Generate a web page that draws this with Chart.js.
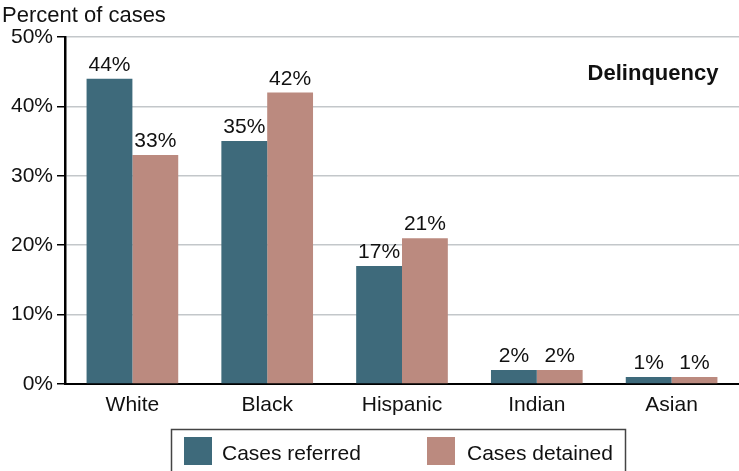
<!DOCTYPE html>
<html>
<head>
<meta charset="utf-8">
<script src="https://cdn.jsdelivr.net/npm/chart.js@4"></script>
<style>
html,body{margin:0;padding:0;background:#fff;}
#wrap{width:739px;height:471px;position:relative;}
</style>
</head>
<body>
<div id="wrap"><canvas id="c"></canvas></div>
<script>
const categories = ["White", "Black", "Hispanic", "Indian", "Asian"];
const referred = [44, 35, 17, 2, 1];
const detained = [33, 42, 21, 2, 1];
const seriesNames = ["Cases referred", "Cases detained"];
const seriesColors = ["#3e6a7b", "#bb8a7f"];
const yTicks = [0, 10, 20, 30, 40, 50];
const axisTitle = "Percent of cases";
const panelTitle = "Delinquency";

const FONT = "'Liberation Sans', Arial, Helvetica, sans-serif";

const overlay = {
  id: 'overlay',
  afterDatasetsDraw(chart) {
    const ctx = chart.ctx;
    ctx.save();
    ctx.fillStyle = '#111';
    ctx.font = '21px ' + FONT;
    ctx.textAlign = 'center';
    ctx.textBaseline = 'alphabetic';
    chart.data.datasets.forEach((ds, i) => {
      const meta = chart.getDatasetMeta(i);
      meta.data.forEach((bar, j) => {
        ctx.fillText(ds.data[j] + '%', bar.x, bar.y - 8);
      });
    });
    // axis title
    ctx.textAlign = 'left';
    ctx.font = '22px ' + FONT;
    ctx.fillText(axisTitle, 2, 22);
    // panel title
    ctx.textAlign = 'center';
    ctx.font = 'bold 22px ' + FONT;
    ctx.fillText(panelTitle, 653, 80);
    // legend
    ctx.strokeStyle = '#444';
    ctx.lineWidth = 1.5;
    ctx.strokeRect(171.5, 429.5, 454, 50);
    const items = [{x: 184, tx: 222}, {x: 427, tx: 467}];
    ctx.font = '21px ' + FONT;
    ctx.textAlign = 'left';
    ctx.textBaseline = 'alphabetic';
    items.forEach((it, i) => {
      ctx.fillStyle = seriesColors[i];
      ctx.fillRect(it.x, 437, 28, 28);
      ctx.fillStyle = '#111';
      ctx.fillText(seriesNames[i], it.tx, 460);
    });
    ctx.restore();
  }
};

new Chart(document.getElementById('c'), {
  type: 'bar',
  data: {
    labels: categories,
    datasets: [
      {label: seriesNames[0], data: referred, backgroundColor: seriesColors[0], barPercentage: 1.0, categoryPercentage: 0.68},
      {label: seriesNames[1], data: detained, backgroundColor: seriesColors[1], barPercentage: 1.0, categoryPercentage: 0.68}
    ]
  },
  options: {
    responsive: true,
    maintainAspectRatio: false,
    animation: false,
    layout: {padding: {top: 37, right: 0, bottom: 0, left: 0}},
    plugins: {legend: {display: false}, tooltip: {enabled: false}},
    scales: {
      x: {
        grid: {display: false, drawTicks: false},
        border: {color: '#000', width: 2},
        ticks: {color: '#111', font: {family: FONT, size: 21}, padding: 9},
        afterFit(s) { s.height = 87; }
      },
      y: {
        min: 0, max: 50,
        afterBuildTicks(s) { s.ticks = yTicks.map(v => ({value: v})); },
        grid: {color: '#c3c7ca', lineWidth: 1.5, tickColor: '#000', tickLength: 8, tickWidth: 1.5},
        border: {color: '#000', width: 2.5},
        ticks: {color: '#111', font: {family: FONT, size: 21}, padding: 4, callback: v => v + '%'},
        afterFit(s) { s.width = 65; }
      }
    }
  },
  plugins: [overlay]
});
</script>
</body>
</html>
